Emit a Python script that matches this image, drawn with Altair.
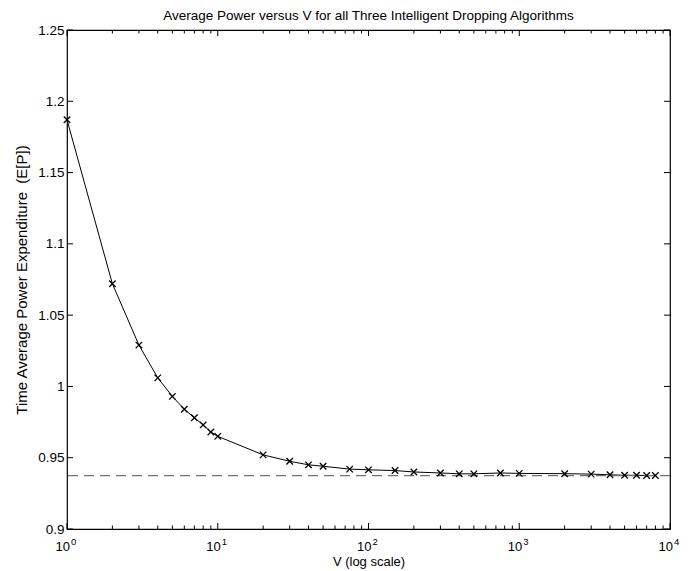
import altair as alt
import pandas as pd

# Data
V = [1, 2, 3, 4, 5, 6, 7, 8, 9, 10, 20, 30, 40, 50, 75, 100, 150, 200, 300,
     400, 500, 750, 1000, 2000, 3000, 4000, 5000, 6000, 7000, 8000]
P = [1.187, 1.072, 1.029, 1.006, 0.993, 0.984, 0.978, 0.973, 0.968, 0.965,
     0.952, 0.9475, 0.945, 0.944, 0.942, 0.9415, 0.941, 0.940, 0.9393,
     0.9387, 0.9387, 0.9393, 0.939, 0.9388, 0.9385, 0.938, 0.9377, 0.9377,
     0.9375, 0.9375]
BOUND = 0.9375

Y_TICKS = [0.9, 0.95, 1.0, 1.05, 1.1, 1.15, 1.2, 1.25]
X_MAJOR = [1, 10, 100, 1000, 10000]
X_EXP = ["0", "1", "2", "3", "4"]
X_MINOR = [m * 10 ** k for k in range(4) for m in range(2, 10)]

W, H = 603, 499
FONT = "Liberation Sans"

xs = alt.Scale(type="log", domain=[1, 10000], nice=False)
ys = alt.Scale(domain=[0.9, 1.25], nice=False, zero=False)

xa = alt.Axis(
    title="V (log scale)", labels=False, ticks=False, domain=False, grid=False,
    titleFont=FONT, titleFontSize=13, titleFontWeight="normal",
    titleColor="black", titlePadding=26)
ya = alt.Axis(
    title="Time Average Power Expenditure\u00a0\u00a0(E[P])", values=Y_TICKS,
    format="~g", ticks=False, domain=False, grid=False, labelFont=FONT,
    labelFontSize=13.5, labelColor="black", labelPadding=3, titleFont=FONT,
    titleFontSize=15, titleFontWeight="normal", titleColor="black",
    titlePadding=8)

df = pd.DataFrame({"V": V, "P": P})
majors = pd.DataFrame({"V": X_MAJOR, "e": X_EXP})
minors = pd.DataFrame({"V": X_MINOR})
yt = pd.DataFrame({"P": Y_TICKS})

line = alt.Chart(df).mark_line(color="black", strokeWidth=1).encode(
    x=alt.X("V:Q", scale=xs, axis=xa),
    y=alt.Y("P:Q", scale=ys, axis=ya),
)

pts = alt.Chart(df).mark_point(
    shape="M-1,-1L1,1M-1,1L1,-1", size=42, filled=False, color="black",
    strokeWidth=1.3, opacity=1).encode(
    x=alt.X("V:Q", scale=xs, axis=xa),
    y=alt.Y("P:Q", scale=ys, axis=ya),
)

bound = alt.Chart(pd.DataFrame({"P": [BOUND]})).mark_rule(
    color="#707070", strokeWidth=1.3, strokeDash=[10, 6]).encode(
    y=alt.Y("P:Q", scale=ys, axis=ya))

def xticks(data, length, top):
    if top:
        y1, y2 = 0, length
    else:
        y1, y2 = H, H - length
    return alt.Chart(data).mark_rule(color="black", strokeWidth=1).encode(
        x=alt.X("V:Q", scale=xs, axis=xa),
        y=alt.value(y1), y2=alt.value(y2))

def yticks(left):
    x1, x2 = (0, 6) if left else (W, W - 6)
    return alt.Chart(yt).mark_rule(color="black", strokeWidth=1).encode(
        y=alt.Y("P:Q", scale=ys, axis=ya),
        x=alt.value(x1), x2=alt.value(x2))

lab10 = alt.Chart(majors).mark_text(
    text="10", align="right", baseline="alphabetic", font=FONT, fontSize=13,
    color="black", dx=3).encode(
    x=alt.X("V:Q", scale=xs, axis=xa), y=alt.value(H + 22))
labexp = alt.Chart(majors).mark_text(
    align="left", baseline="alphabetic", font=FONT, fontSize=9.5,
    color="black", dx=4).encode(
    x=alt.X("V:Q", scale=xs, axis=xa), y=alt.value(H + 16), text="e:N")

chart = alt.layer(
    line, bound, pts,
    xticks(majors, 6, False), xticks(majors, 6, True),
    xticks(minors, 3.5, False), xticks(minors, 3.5, True),
    yticks(True), yticks(False), lab10, labexp,
).properties(
    width=W, height=H,
    title=alt.TitleParams(
        "Average Power versus V for all Three Intelligent Dropping Algorithms",
        font=FONT, fontSize=13.5, fontWeight="normal", color="black", offset=1),
    autosize=alt.AutoSizeParams(type="none"),
    padding={"left": 59, "top": 22, "right": 20, "bottom": 42},
).configure_view(stroke="black", strokeWidth=1.2)

chart.save("out.html", embed_options={"renderer": "svg", "actions": False})
